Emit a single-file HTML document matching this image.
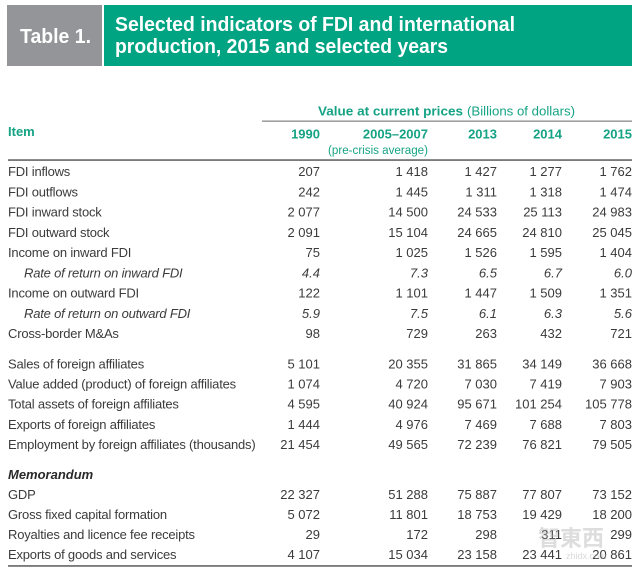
<!DOCTYPE html>
<html>
<head>
<meta charset="utf-8">
<style>
  html,body{margin:0;padding:0;background:#fff;}
  svg{display:block;}
  .t{font-family:"Liberation Sans",Arial,sans-serif;}
  .lab{font-size:13px;fill:#3b3b3b;letter-spacing:-0.2px;}
  .num{font-size:13px;fill:#3b3b3b;text-anchor:end;}
  .it{font-style:italic;}
  .gh{font-size:13px;font-weight:bold;fill:#16a385;}
  .ghe{font-size:13px;font-weight:bold;fill:#16a385;text-anchor:end;}
</style>
</head>
<body>
<svg width="640" height="573" viewBox="0 0 640 573" xmlns="http://www.w3.org/2000/svg">
  <rect x="0" y="0" width="640" height="573" fill="#ffffff"/>
  <!-- Title band -->
  <rect x="7" y="5" width="95" height="61" fill="#939598"/>
  <rect x="104" y="5" width="528" height="61" fill="#00a482"/>
  <text class="t" x="20" y="43" font-size="20" font-weight="bold" fill="#ffffff" textLength="71" lengthAdjust="spacingAndGlyphs">Table 1.</text>
  <text class="t" x="115" y="31" font-size="20" font-weight="bold" fill="#ffffff" textLength="400" lengthAdjust="spacingAndGlyphs">Selected indicators of FDI and international</text>
  <text class="t" x="115" y="53" font-size="20" font-weight="bold" fill="#ffffff" textLength="333" lengthAdjust="spacingAndGlyphs">production, 2015 and selected years</text>

  <!-- Column header -->
  <text class="t" x="318" y="115.5" font-size="12.5" font-weight="bold" fill="#16a385" textLength="145" lengthAdjust="spacingAndGlyphs">Value at current prices</text>
  <text class="t" x="467" y="115.5" font-size="12.5" fill="#16a385" textLength="108" lengthAdjust="spacingAndGlyphs">(Billions of dollars)</text>
  <rect x="262" y="120.5" width="370" height="1.3" fill="#8a8a8a"/>

  <text class="t gh" x="8" y="136">Item</text>
  <text class="t ghe" x="320" y="138.5">1990</text>
  <text class="t ghe" x="428" y="138.5">2005–2007</text>
  <text class="t ghe" x="497" y="138.5">2013</text>
  <text class="t ghe" x="562" y="138.5">2014</text>
  <text class="t ghe" x="632" y="138.5">2015</text>
  <text class="t" x="428" y="154" font-size="11.5" fill="#16a385" text-anchor="end" textLength="100" lengthAdjust="spacingAndGlyphs">(pre-crisis average)</text>
  <rect x="8" y="159.3" width="624" height="1.5" fill="#5a5a5a"/>

  <!-- Rows -->
  <g class="t">
    <!-- FDI inflows -->
    <text class="lab" x="8" y="176">FDI inflows</text>
    <text class="num" x="320" y="176">207</text>
    <text class="num" x="428" y="176">1 418</text>
    <text class="num" x="497" y="176">1 427</text>
    <text class="num" x="562" y="176">1 277</text>
    <text class="num" x="632" y="176">1 762</text>

    <text class="lab" x="8" y="196.25">FDI outflows</text>
    <text class="num" x="320" y="196.25">242</text>
    <text class="num" x="428" y="196.25">1 445</text>
    <text class="num" x="497" y="196.25">1 311</text>
    <text class="num" x="562" y="196.25">1 318</text>
    <text class="num" x="632" y="196.25">1 474</text>

    <text class="lab" x="8" y="216.5">FDI inward stock</text>
    <text class="num" x="320" y="216.5">2 077</text>
    <text class="num" x="428" y="216.5">14 500</text>
    <text class="num" x="497" y="216.5">24 533</text>
    <text class="num" x="562" y="216.5">25 113</text>
    <text class="num" x="632" y="216.5">24 983</text>

    <text class="lab" x="8" y="236.75">FDI outward stock</text>
    <text class="num" x="320" y="236.75">2 091</text>
    <text class="num" x="428" y="236.75">15 104</text>
    <text class="num" x="497" y="236.75">24 665</text>
    <text class="num" x="562" y="236.75">24 810</text>
    <text class="num" x="632" y="236.75">25 045</text>

    <text class="lab" x="8" y="257">Income on inward FDI</text>
    <text class="num" x="320" y="257">75</text>
    <text class="num" x="428" y="257">1 025</text>
    <text class="num" x="497" y="257">1 526</text>
    <text class="num" x="562" y="257">1 595</text>
    <text class="num" x="632" y="257">1 404</text>

    <text class="lab it" x="24" y="277.25">Rate of return on inward FDI</text>
    <text class="num it" x="320" y="277.25">4.4</text>
    <text class="num it" x="428" y="277.25">7.3</text>
    <text class="num it" x="497" y="277.25">6.5</text>
    <text class="num it" x="562" y="277.25">6.7</text>
    <text class="num it" x="632" y="277.25">6.0</text>

    <text class="lab" x="8" y="297.5">Income on outward FDI</text>
    <text class="num" x="320" y="297.5">122</text>
    <text class="num" x="428" y="297.5">1 101</text>
    <text class="num" x="497" y="297.5">1 447</text>
    <text class="num" x="562" y="297.5">1 509</text>
    <text class="num" x="632" y="297.5">1 351</text>

    <text class="lab it" x="24" y="317.75">Rate of return on outward FDI</text>
    <text class="num it" x="320" y="317.75">5.9</text>
    <text class="num it" x="428" y="317.75">7.5</text>
    <text class="num it" x="497" y="317.75">6.1</text>
    <text class="num it" x="562" y="317.75">6.3</text>
    <text class="num it" x="632" y="317.75">5.6</text>

    <text class="lab" x="8" y="338">Cross-border M&amp;As</text>
    <text class="num" x="320" y="338">98</text>
    <text class="num" x="428" y="338">729</text>
    <text class="num" x="497" y="338">263</text>
    <text class="num" x="562" y="338">432</text>
    <text class="num" x="632" y="338">721</text>

    <!-- second block -->
    <text class="lab" x="8" y="368.5">Sales of foreign affiliates</text>
    <text class="num" x="320" y="368.5">5 101</text>
    <text class="num" x="428" y="368.5">20 355</text>
    <text class="num" x="497" y="368.5">31 865</text>
    <text class="num" x="562" y="368.5">34 149</text>
    <text class="num" x="632" y="368.5">36 668</text>

    <text class="lab" x="8" y="388.5">Value added (product) of foreign affiliates</text>
    <text class="num" x="320" y="388.5">1 074</text>
    <text class="num" x="428" y="388.5">4 720</text>
    <text class="num" x="497" y="388.5">7 030</text>
    <text class="num" x="562" y="388.5">7 419</text>
    <text class="num" x="632" y="388.5">7 903</text>

    <text class="lab" x="8" y="408.5">Total assets of foreign affiliates</text>
    <text class="num" x="320" y="408.5">4 595</text>
    <text class="num" x="428" y="408.5">40 924</text>
    <text class="num" x="497" y="408.5">95 671</text>
    <text class="num" x="562" y="408.5">101 254</text>
    <text class="num" x="632" y="408.5">105 778</text>

    <text class="lab" x="8" y="428.75">Exports of foreign affiliates</text>
    <text class="num" x="320" y="428.75">1 444</text>
    <text class="num" x="428" y="428.75">4 976</text>
    <text class="num" x="497" y="428.75">7 469</text>
    <text class="num" x="562" y="428.75">7 688</text>
    <text class="num" x="632" y="428.75">7 803</text>

    <text class="lab" x="8" y="448.75">Employment by foreign affiliates (thousands)</text>
    <text class="num" x="320" y="448.75">21 454</text>
    <text class="num" x="428" y="448.75">49 565</text>
    <text class="num" x="497" y="448.75">72 239</text>
    <text class="num" x="562" y="448.75">76 821</text>
    <text class="num" x="632" y="448.75">79 505</text>

    <!-- Memorandum -->
    <text x="8" y="479" font-size="13" font-weight="bold" font-style="italic" fill="#2a2a2a">Memorandum</text>

    <text class="lab" x="8" y="499">GDP</text>
    <text class="num" x="320" y="499">22 327</text>
    <text class="num" x="428" y="499">51 288</text>
    <text class="num" x="497" y="499">75 887</text>
    <text class="num" x="562" y="499">77 807</text>
    <text class="num" x="632" y="499">73 152</text>

    <text class="lab" x="8" y="519">Gross fixed capital formation</text>
    <text class="num" x="320" y="519">5 072</text>
    <text class="num" x="428" y="519">11 801</text>
    <text class="num" x="497" y="519">18 753</text>
    <text class="num" x="562" y="519">19 429</text>
    <text class="num" x="632" y="519">18 200</text>

    <text class="lab" x="8" y="539">Royalties and licence fee receipts</text>
    <text class="num" x="320" y="539">29</text>
    <text class="num" x="428" y="539">172</text>
    <text class="num" x="497" y="539">298</text>
    <text class="num" x="562" y="539">311</text>
    <text class="num" x="632" y="539">299</text>

    <text class="lab" x="8" y="559">Exports of goods and services</text>
    <text class="num" x="320" y="559">4 107</text>
    <text class="num" x="428" y="559">15 034</text>
    <text class="num" x="497" y="559">23 158</text>
    <text class="num" x="562" y="559">23 441</text>
    <text class="num" x="632" y="559">20 861</text>
  </g>

  <rect x="8" y="565.2" width="624" height="1.5" fill="#5a5a5a"/>

  <!-- faint watermark -->
  <text x="538" y="546" font-family="'Liberation Sans','Noto Sans CJK TC',sans-serif" font-size="22" font-weight="bold" fill="#b4b4b4" fill-opacity="0.45">智東西</text>
  <text x="566" y="559" font-family="'Liberation Sans',sans-serif" font-size="9" fill="#b4b4b4" fill-opacity="0.5">zhidx.com</text>
</svg>
</body>
</html>
